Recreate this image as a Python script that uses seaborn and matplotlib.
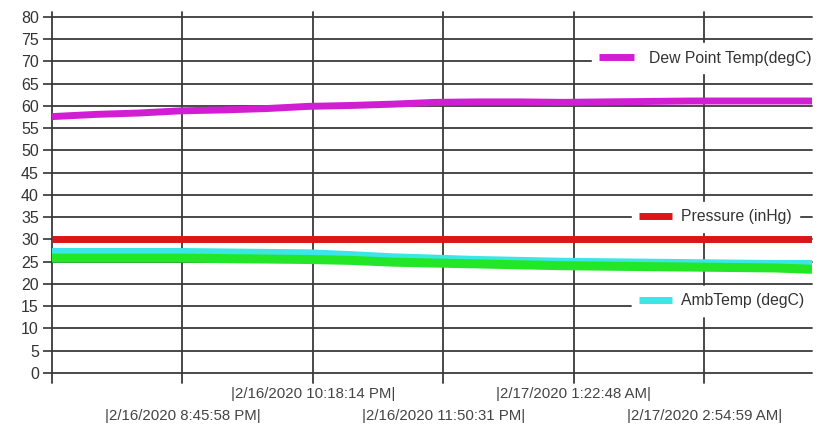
import pandas as pd
import matplotlib.pyplot as plt
import seaborn as sns

# readings
times = ["2020-02-16 19:13:42", "2020-02-16 19:45:00", "2020-02-16 20:15:00",
         "2020-02-16 20:45:00", "2020-02-16 21:15:00", "2020-02-16 21:45:00",
         "2020-02-16 22:15:00", "2020-02-16 22:45:00", "2020-02-16 23:15:00",
         "2020-02-16 23:45:00", "2020-02-17 00:15:00", "2020-02-17 00:45:00",
         "2020-02-17 01:15:00", "2020-02-17 01:45:00", "2020-02-17 02:15:00",
         "2020-02-17 02:45:00", "2020-02-17 03:15:00", "2020-02-17 03:45:00",
         "2020-02-17 04:11:17"]
dew_point = [57.6, 58.1, 58.4, 58.9, 59.1, 59.4, 59.9, 60.1, 60.4, 60.8,
             60.9, 60.9, 60.8, 60.9, 61.0, 61.1, 61.1, 61.1, 61.1]
pressure = [30.0] * 19
amb_temp = [27.3, 27.3, 27.3, 27.3, 27.2, 27.1, 27.0, 26.6, 26.1, 25.8,
            25.5, 25.3, 25.1, 25.0, 24.9, 24.8, 24.7, 24.6, 24.6]
other_temp = [25.8, 25.8, 25.8, 25.8, 25.7, 25.6, 25.5, 25.3, 24.9, 24.7,
              24.5, 24.3, 24.1, 24.0, 23.9, 23.8, 23.7, 23.6, 23.3]

# x ticks: lower row (major) and upper row (minor)
lower_times = ["2020-02-16 20:45:58", "2020-02-16 23:50:31", "2020-02-17 02:54:59"]
lower_labels = ["|2/16/2020 8:45:58 PM|", "|2/16/2020 11:50:31 PM|", "|2/17/2020 2:54:59 AM|"]
upper_times = ["2020-02-16 19:13:42", "2020-02-16 22:18:14", "2020-02-17 01:22:48"]
upper_labels = ["", "|2/16/2020 10:18:14 PM|", "|2/17/2020 1:22:48 AM|"]

df = pd.DataFrame({"time": pd.to_datetime(times), "dew": dew_point,
                   "pres": pressure, "amb": amb_temp, "other": other_temp})

sns.set_style("white")
plt.rcParams['font.family'] = ['Liberation Sans', 'DejaVu Sans']

fig = plt.figure(figsize=(8.36, 4.24), dpi=100)
ax = fig.add_axes([52/836, 41/424, 760/836, 371/424])

sns.lineplot(data=df, x="time", y="dew", color="#d21ed2", lw=5, ax=ax, label="Dew Point Temp(degC)")
sns.lineplot(data=df, x="time", y="pres", color="#dc1616", lw=5, ax=ax, label="Pressure (inHg)")
sns.lineplot(data=df, x="time", y="amb", color="#3ae6e6", lw=5, ax=ax, label="AmbTemp (degC)")
sns.lineplot(data=df, x="time", y="other", color="#22e626", lw=6.5, ax=ax)
for ln in ax.lines:
    ln.set_solid_capstyle("butt")
ax.get_legend().remove()

ax.set_xlim(df.time.iloc[0], df.time.iloc[-1])
ax.set_ylim(-2.25, 81.1)
ax.set_yticks(range(0, 81, 5))
ax.set_xticks(pd.to_datetime(lower_times))
ax.set_xticklabels(lower_labels, fontsize=10.8, color="#444444")
ax.set_xticks(pd.to_datetime(upper_times), minor=True)
ax.set_xticklabels(upper_labels, minor=True, fontsize=10.8, color="#444444")
ax.tick_params(axis="x", which="major", length=0, pad=19)
ax.tick_params(axis="x", which="minor", length=0, pad=3)
ax.tick_params(axis="y", length=6.5, width=1.2, color="#333333", pad=3,
               labelsize=11.5, labelcolor="#333333", left=True)
ax.set_xlabel("")
ax.set_ylabel("")
for s in ax.spines.values():
    s.set_visible(False)

ax.grid(True, axis="y", color="#3a3a3a", lw=1.3)
ax.grid(True, axis="x", which="both", color="#3a3a3a", lw=1.3)
ax.set_axisbelow(True)
for gl in ax.get_xgridlines() + ax.get_ygridlines() + ax.xaxis.get_minorticklines():
    gl.set_clip_on(False)
for t in ax.xaxis.get_minor_ticks():
    t.gridline.set_clip_on(False)

lines = ax.lines[:3]
specs = [(0, 592, 58, 2.2, 1.0), (1, 632, 217, 2.1, 0.6), (2, 632, 301, 2.1, 0.6)]
for idx, x0, y0, hl, tp in specs:
    leg = ax.legend([lines[idx]], [lines[idx].get_label()], loc="center left",
                    bbox_to_anchor=(x0/836, 1 - y0/424), bbox_transform=fig.transFigure,
                    frameon=True, facecolor="white", edgecolor="white", framealpha=1,
                    fancybox=False, borderpad=0.45, borderaxespad=0, handlelength=hl,
                    handletextpad=tp, fontsize=11.3, labelcolor="#333333")
    leg.set_zorder(5)
    ax.add_artist(leg)

fig.savefig("out.png", dpi=100)
